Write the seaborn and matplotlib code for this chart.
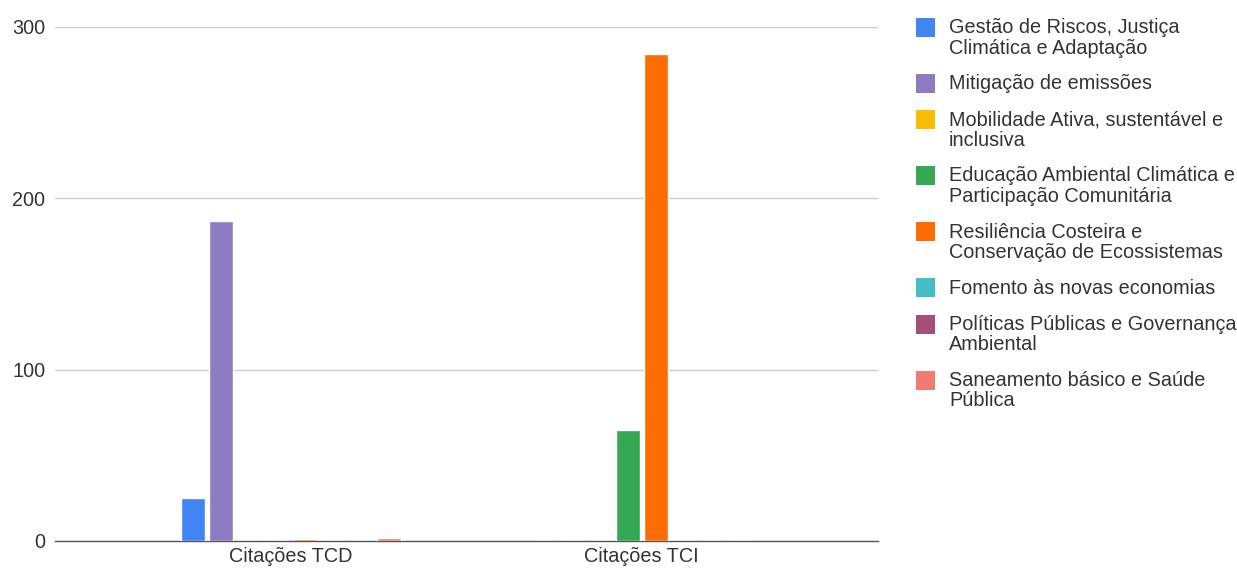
import matplotlib
matplotlib.use("Agg")
import matplotlib.pyplot as plt
import matplotlib.patches as mpatches
import seaborn as sns
import pandas as pd

groups = ["Citações TCD", "Citações TCI"]
series = [
    "Gestão de Riscos, Justiça\nClimática e Adaptação",
    "Mitigação de emissões",
    "Mobilidade Ativa, sustentável e\ninclusiva",
    "Educação Ambiental Climática e\nParticipação Comunitária",
    "Resiliência Costeira e\nConservação de Ecossistemas",
    "Fomento às novas economias",
    "Políticas Públicas e Governança\nAmbiental",
    "Saneamento básico e Saúde\nPública",
]
tcd_values = [25, 187, 0, 0, 1, 0, 0, 2]
tci_values = [0, 0, 0, 65, 284, 0, 0, 0]
colors = ["#4285F4", "#8E7CC3", "#FBBC04", "#34A853", "#FF6D01", "#46BDC6", "#A64D79", "#F07B72"]
yticks = [0, 100, 200, 300]

rows = []
for s, a, b in zip(series, tcd_values, tci_values):
    rows.append({"grupo": groups[0], "serie": s, "valor": a})
    rows.append({"grupo": groups[1], "serie": s, "valor": b})
df = pd.DataFrame(rows)

sns.set_theme(style="white")
plt.rcParams["font.family"] = ["Liberation Sans", "DejaVu Sans"]
txt = "#333333"
fs = 14.3

W, H = 1237, 569
fig = plt.figure(figsize=(W / 100, H / 100), dpi=100)
ax = fig.add_axes([55 / W, 28 / H, (878 - 55) / W, (541 - 27) / H])

sns.barplot(data=df, x="grupo", y="valor", hue="serie", hue_order=series,
            order=groups, palette=colors, width=0.638, gap=0.14,
            saturation=1, ax=ax, legend=False, errorbar=None, zorder=3)

ax.set_xlim(-0.672, 1.673)
ax.set_ylim(0, 300)
ax.set_yticks(yticks)
ax.set_yticklabels([str(v) for v in yticks], fontsize=fs, color=txt)
ax.tick_params(axis="x", labelsize=fs, labelcolor=txt, length=0, pad=4)
ax.tick_params(axis="y", length=0, pad=7)
ax.set_xlabel("")
ax.set_ylabel("")
for sp in ["top", "right", "left"]:
    ax.spines[sp].set_visible(False)
ax.spines["bottom"].set_color("#555555")
ax.spines["bottom"].set_linewidth(1.0)
ax.spines["bottom"].set_zorder(2)
ax.grid(axis="y", color="#cccccc", linewidth=1)
ax.set_axisbelow(True)

# Legend (manual, handles aligned with first text line)
line_h = 19.5
gap = 17
y = 27.0
for s, c in zip(series, colors):
    nlines = s.count("\n") + 1
    fig.patches.append(mpatches.Rectangle((916 / W, 1 - (y + 9.5) / H), 19 / W, 19 / H,
                                          transform=fig.transFigure, facecolor=c,
                                          edgecolor="none"))
    fig.text(949 / W, 1 - (y - 9) / H, s, fontsize=fs, color=txt, va="top", ha="left",
             linespacing=1.1)
    y += nlines * line_h + gap

fig.savefig("out.png", dpi=100, facecolor="white")
